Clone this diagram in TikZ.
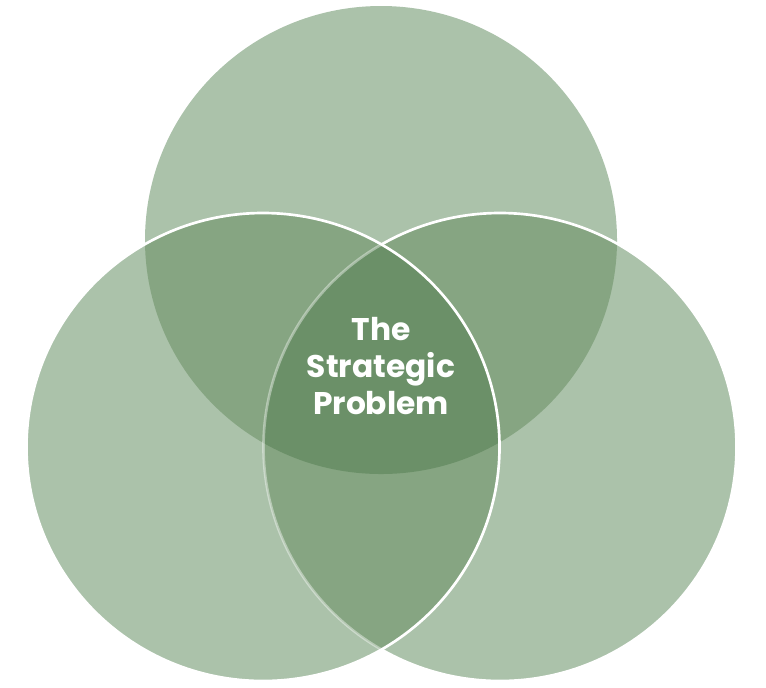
\documentclass[tikz,border=0pt]{standalone}
\usepackage{fontspec}
\setmainfont{Poppins}
\definecolor{cLight}{HTML}{ABC2AA}
\definecolor{cPair}{HTML}{86A582}
\definecolor{cCenter}{HTML}{6B9068}
\tikzset{
  edge/.style={draw=white, line width=2},
  faintedge/.style={draw=white, draw opacity=0.4, line width=2},
  label/.style={text=white, font=\fontsize{23.5}{28}\selectfont\bfseries, align=center}
}
\begin{document}
\begin{tikzpicture}[x=0.75pt,y=-0.75pt]
\useasboundingbox (0,0) rectangle (766,687);
% top circle
\fill[cLight] (381,240) ellipse [x radius=236,y radius=234];
% right circle
\fill[cLight] (500,447) ellipse [x radius=236.5,y radius=234];
\begin{scope}
  \clip (381,240) ellipse [x radius=236,y radius=234];
  \fill[cPair] (500,447) ellipse [x radius=236.5,y radius=234];
\end{scope}
\path[edge] (500,447) ellipse [x radius=236.5,y radius=234];
% left circle
\fill[cLight] (263,447) ellipse [x radius=236.5,y radius=234];
\begin{scope}
  \clip (263,447) ellipse [x radius=236.5,y radius=234];
  \fill[cPair] (381,240) ellipse [x radius=236,y radius=234];
  \fill[cPair] (500,447) ellipse [x radius=236.5,y radius=234];
  \clip (381,240) ellipse [x radius=236,y radius=234];
  \fill[cCenter] (500,447) ellipse [x radius=236.5,y radius=234];
\end{scope}
\begin{scope}
  \clip (263,447) ellipse [x radius=236.5,y radius=234];
  \path[faintedge] (500,447) ellipse [x radius=236.5,y radius=234];
\end{scope}
\path[edge] (263,447) ellipse [x radius=236.5,y radius=234];
\node[label] (title) at (381,366) {The\\Strategic\\Problem};
\end{tikzpicture}
\end{document}
